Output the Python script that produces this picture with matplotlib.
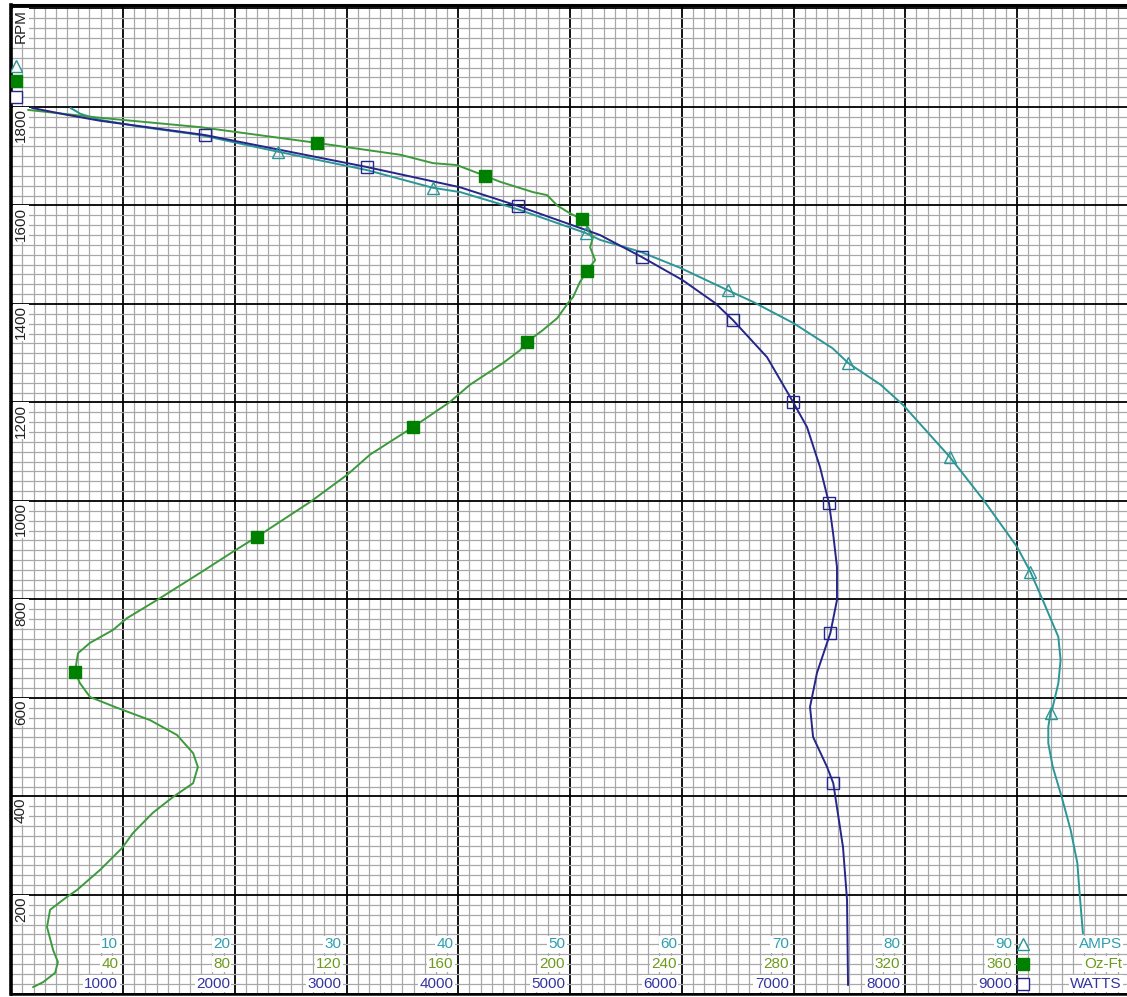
"""
Motor curve: RPM vs AMPS / Oz-Ft / WATTS on one graph-paper grid
"""
import matplotlib
matplotlib.use("Agg")
import matplotlib.pyplot as plt
from matplotlib.ticker import MultipleLocator

plt.rcParams["font.family"] = ["Liberation Sans", "DejaVu Sans"]

# ============================================================
# data
# ============================================================
watts_rpm = [1798, 1784, 1772, 1743, 1678, 1637, 1599, 1540, 1495, 1449, 1402, 1367,
             1292, 1201, 1150, 1069, 995, 935, 866, 799, 732, 651, 582, 521, 460, 427,
             297, 190, 17]
watts = [186, 499, 794, 1734, 3183, 4015, 4535, 5268, 5645, 6003, 6298, 6459,
         6763, 6996, 7121, 7237, 7318, 7354, 7389, 7389, 7330, 7210, 7148, 7175, 7300, 7356,
         7443, 7479, 7488]
watts_mark_rpm = [1743, 1678, 1599, 1495, 1367, 1201, 995, 732, 427]
watts_mark = [1734, 3183, 4535, 5645, 6459, 6996, 7318, 7330, 7356]

amps_rpm = [1798, 1786, 1774, 1760, 1743, 1709, 1672, 1636, 1627, 1591, 1544, 1530,
            1506, 1473, 1428, 1404, 1361, 1310, 1280, 1236, 1195, 1089, 1002, 907,
            856, 799, 724, 677, 630, 582, 570, 541, 508, 460, 399, 332, 265, 204, 122]
amps = [5.3, 6.2, 7.9, 11.5, 16.9, 23.9, 31.8, 37.7, 40.2, 45.5, 51.4, 52.7,
        56.3, 59.9, 64.1, 66.4, 70.0, 73.5, 74.9, 77.8, 79.8, 84.0, 87.0, 90.0,
        91.2, 92.3, 93.7, 93.9, 93.7, 93.2, 93.0, 92.8, 92.8, 93.2, 94.0, 94.8, 95.4, 95.6, 95.9]
amps_mark_rpm = [1709, 1636, 1544, 1428, 1280, 1089, 856, 570]
amps_mark = [23.9, 37.7, 51.4, 64.1, 74.9, 84.0, 91.2, 93.0]

ozft_rpm = [1794, 1778, 1759, 1727, 1703, 1686, 1682, 1660, 1648, 1627,
            1621, 1600, 1584, 1572, 1549, 1535, 1515, 1489, 1467, 1445,
            1414, 1402, 1371, 1347, 1323, 1306, 1280, 1236, 1201, 1150,
            1094, 1053, 998, 927, 900, 854, 799, 762, 738, 712,
            691, 653, 630, 602, 580, 555, 525, 488, 460, 427,
            399, 367, 326, 295, 251, 210, 196, 170, 135, 88,
            64, 42, 23, 13]
ozft = [6.0, 31.8, 67.6, 109.4, 139.2, 150.9, 159.5, 169.6, 175.0, 186.8,
        191.8, 195.4, 200.0, 204.3, 207.2, 208.2, 207.2, 209.0, 206.1, 203.6,
        201.1, 199.3, 195.4, 190.3, 184.6, 182.1, 176.0, 164.2, 157.0, 143.8,
        128.4, 120.2, 107.0, 87.9, 80.2, 67.6, 52.2, 41.4, 36.4, 28.2,
        23.9, 22.8, 24.6, 28.2, 37.9, 49.7, 59.3, 65.1, 66.8, 65.1,
        57.9, 50.7, 43.6, 39.6, 31.8, 23.5, 19.9, 13.9, 12.8, 15.0,
        16.7, 15.7, 11.4, 7.8]
ozft_mark_rpm = [1727, 1660, 1572, 1467, 1323, 1150, 927, 653]
ozft_mark = [109.4, 169.6, 204.3, 206.1, 184.6, 143.8, 87.9, 22.8]

# axis labels
rpm_ticks = [200, 400, 600, 800, 1000, 1200, 1400, 1600, 1800]
amps_ticks = [10, 20, 30, 40, 50, 60, 70, 80, 90]
ozft_ticks = [40, 80, 120, 160, 200, 240, 280, 320, 360]
watts_ticks = [1000, 2000, 3000, 4000, 5000, 6000, 7000, 8000, 9000]

# one horizontal scale: 1000 W == 10 A == 40 Oz-Ft
AMP_K = 100.0
OZ_K = 25.0

c_amps, c_oz, c_watts = "#2b9696", "#3c9a3c", "#25258a"
t_amps, t_oz, t_watts = "#2e9fae", "#6e9a1e", "#3535a0"

fig = plt.figure(figsize=(11.27, 9.97), dpi=100)
ax = fig.add_axes([11.25 / 1127, 3.5 / 997, 1117.5 / 1127, 988.5 / 997])
ax.set_xlim(0, 10000)
ax.set_ylim(0, 2007)

# graph paper grid
ax.xaxis.set_major_locator(MultipleLocator(1000))
ax.xaxis.set_minor_locator(MultipleLocator(100))
ax.yaxis.set_major_locator(MultipleLocator(200))
ax.yaxis.set_minor_locator(MultipleLocator(20))
ax.set_axisbelow(True)
ax.grid(which="minor", color="#a8a8a8", linewidth=0.9)
ax.grid(which="major", color="black", linewidth=1.3)
ax.tick_params(which="both", length=0, labelbottom=False, labelleft=False)
ax.spines["right"].set_visible(False)
ax.spines["left"].set_linewidth(2.6)
ax.spines["top"].set_linewidth(2.2)
ax.spines["bottom"].set_linewidth(1.8)

# curves
line_kw = dict(lw=1.4, zorder=4, solid_joinstyle="round", solid_capstyle="round")
ax.plot([a * AMP_K for a in amps], amps_rpm, color=c_amps, **line_kw)
ax.plot([o * OZ_K for o in ozft], ozft_rpm, color=c_oz, **line_kw)
ax.plot(watts, watts_rpm, color=c_watts, **line_kw)

ax.plot([a * AMP_K for a in amps_mark], amps_mark_rpm, ls="none", marker="^",
        ms=9, mfc="none", mec=c_amps, mew=1.0, zorder=5)
ax.plot([o * OZ_K for o in ozft_mark], ozft_mark_rpm, ls="none", marker="s",
        ms=8.5, mfc="#008000", mec="#008000", zorder=5)
ax.plot(watts_mark, watts_mark_rpm, ls="none", marker="s",
        ms=9, mfc="none", mec=c_watts, mew=1.0, zorder=5)

box = dict(facecolor="white", edgecolor="none", pad=1)
fs = 11

# bottom scales
for w, a, o in zip(watts_ticks, amps_ticks, ozft_ticks):
    for val, row, col in ((a, 100, t_amps), (o, 60, t_oz), (w, 20, t_watts)):
        ax.annotate(str(val), xy=(w, row), xytext=(-3.5, 0), textcoords="offset points",
                    ha="right", va="center", fontsize=fs, color=col, bbox=box, zorder=3)

# scale names + legend markers bottom right
for name, row, col in (("AMPS", 100, t_amps), ("Oz-Ft", 60, t_oz), ("WATTS", 20, t_watts)):
    ax.annotate(name, xy=(1, row), xycoords=("axes fraction", "data"), xytext=(-5, 0),
                textcoords="offset points", ha="right", va="center", fontsize=fs,
                color=col, bbox=box, zorder=3)
ax.plot(9050, 100, marker="^", ms=9, mfc="white", mec=c_amps, mew=1.0, zorder=5)
ax.plot(9050, 60, marker="s", ms=8.5, mfc="#008000", mec="#008000", zorder=5)
ax.plot(9050, 20, marker="s", ms=9, mfc="white", mec=c_watts, mew=1.0, zorder=5)

# RPM scale on the left
for r in rpm_ticks:
    ax.annotate(str(r), xy=(0, r), xytext=(2, -1), textcoords="offset points",
                rotation=90, ha="left", va="top", fontsize=fs, color="#222222",
                bbox=box, zorder=3)
ax.annotate("RPM", xy=(0, 1), xycoords="axes fraction", xytext=(2, -3),
            textcoords="offset points", rotation=90, ha="left", va="top",
            fontsize=fs, color="#222222", bbox=box, zorder=3)

# legend markers top left
ax.plot(43, 1883, marker="^", ms=9, mfc="white", mec=c_amps, mew=1.0, zorder=5)
ax.plot(43, 1853, marker="s", ms=8.5, mfc="#008000", mec="#008000", zorder=5)
ax.plot(43, 1821, marker="s", ms=9, mfc="white", mec=c_watts, mew=1.0, zorder=5)

fig.savefig("out.png", dpi=100)
print("[OK] motor curve")
